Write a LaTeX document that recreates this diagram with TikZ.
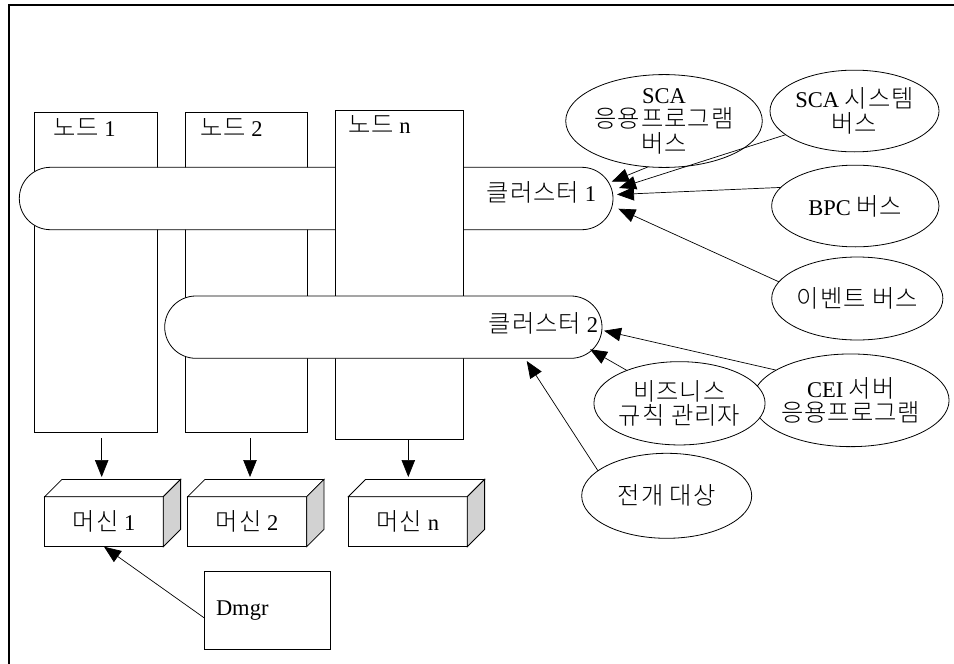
\documentclass[tikz,border=0pt]{standalone}
\usepackage{fontspec}
\setmainfont{Liberation Serif}
\IfFontExistsTF{Noto Sans CJK KR Light}
  {\newfontfamily\kr{Noto Sans CJK KR Light}[Scale=1.08, LetterSpace=4]}
  {\newfontfamily\kr{Noto Sans CJK KR}[Scale=1.08, LetterSpace=4]}
\usetikzlibrary{shapes.geometric,shapes.misc,arrows.meta}
\newcommand\K[1]{{\kr #1}}
\definecolor{sidegray}{RGB}{210,210,210}
\begin{document}
\begin{tikzpicture}[x=1pt,y=-1pt, line width=0.8pt,
  every node/.style={font=\fontsize{22.5}{24.5}\selectfont, inner sep=0pt, outer sep=0pt},
  boxn/.style={draw, fill=white, rectangle},
  pill/.style={draw, fill=white, rounded rectangle},
  oval/.style={draw, fill=white, ellipse, align=center},
  arr/.style={-{Triangle[length=17pt,width=13.5pt]}, line width=0.7pt},
]
\useasboundingbox (0,0) rectangle (954,664);
\clip (0,0) rectangle (954,664);
% frame
\draw[line width=1.6pt] (960,5) -- (9,5) -- (9,670);

% nodes 1 and 2
\node[boxn, minimum width=122.6pt, minimum height=320.4pt] (n1) at (96,272.5) {};
\node[boxn, minimum width=122.7pt, minimum height=320.4pt] (n2) at (246.35,272.5) {};
\node[anchor=west] (ln1) at (53,128) {\K{노드} 1};
\node[anchor=west] (ln2) at (200,128) {\K{노드} 2};

% cluster 1
\node[pill, minimum width=593.7pt, minimum height=62.4pt] (c1) at (316.15,198.5) {};
\node[anchor=east] (lc1) at (596,192) {\K{클러스터} 1};

% node n
\node[boxn, minimum width=128pt, minimum height=328.6pt] (nn) at (399.3,275) {};
\node[anchor=west] (lnn) at (348,125) {\K{노드} n};

% cluster 2
\node[pill, minimum width=437.3pt, minimum height=62.3pt] (c2) at (383.35,327.15) {};
\node[anchor=east] (lc2) at (598,323) {\K{클러스터} 2};

% machines
\node[boxn, minimum width=118.6pt, minimum height=50pt] (m1) at (104,521.7) {\K{머신} 1};
\draw[fill=white] (m1.north west) -- ++(17.3,-17.3) -- ++(118.6,0) -- (m1.north east) -- cycle;
\draw[fill=sidegray] (m1.north east) -- ++(17.3,-17.3) -- ++(0,50) -- (m1.south east) -- cycle;

\node[boxn, minimum width=119pt, minimum height=50pt] (m2) at (247.2,521.7) {\K{머신} 2};
\draw[fill=white] (m2.north west) -- ++(17.3,-17.3) -- ++(119,0) -- (m2.north east) -- cycle;
\draw[fill=sidegray] (m2.north east) -- ++(17.3,-17.3) -- ++(0,50) -- (m2.south east) -- cycle;

\node[boxn, minimum width=119pt, minimum height=50pt] (mn) at (407.8,521.7) {\K{머신} n};
\draw[fill=white] (mn.north west) -- ++(17.3,-17.3) -- ++(119,0) -- (mn.north east) -- cycle;
\draw[fill=sidegray] (mn.north east) -- ++(17.3,-17.3) -- ++(0,50) -- (mn.south east) -- cycle;

% Dmgr
\node[boxn, minimum width=126pt, minimum height=77.6pt, inner xsep=11.3pt, text width=103.4pt, align=left] (dm) at (267.7,610.5) {Dmgr};

% ellipses
\node[oval, minimum width=168pt, minimum height=74.3pt] (e1) at (664,121) {SCA\\\K{응용프로그램}\\\K{버스}};
\node[oval, minimum width=169pt, minimum height=81.7pt] (e2) at (854.5,111) {SCA \K{시스템}\\\K{버스}};
\node[oval, minimum width=167.3pt, minimum height=81.7pt] (e3) at (855.3,206) {BPC \K{버스}};
\node[oval, minimum width=168.7pt, minimum height=83pt] (e4) at (857.3,298.5) {\K{이벤트 버스}};
\node[oval, minimum width=168.3pt, minimum height=92.7pt] (e5) at (850.8,400.3) {CEI \K{서버}\\\K{응용프로그램}};
\node[oval, minimum width=169pt, minimum height=83.3pt] (e6) at (679.5,403.3) {\K{비즈니스}\\\K{규칙 관리자}};
\node[oval, minimum width=170pt, minimum height=85pt] (e7) at (666.7,495.8) {\K{전개 대상}};

% arrow tips
\coordinate (t1) at (611.7,181.7);
\coordinate (t2) at (619,188);
\coordinate (t3) at (617,194.5);
\coordinate (t4) at (618.3,208.7);
\coordinate (t5) at (604,330.7);
\coordinate (t6) at (590,349.3);
\coordinate (t7) at (526.7,361);
\coordinate (a1) at (101.7,477);
\coordinate (a2) at (250,477);
\coordinate (an) at (408.3,477);

\draw[arr] (e1.251) -- (t1);
\draw[arr] (e2.199) -- (t2);
\draw[arr] (e3.166) -- (t3);
\draw[arr] (e4.168) -- (t4);
\draw[arr] (e5.158) -- (t5);
\draw[arr] (e6.148) -- (t6);
\draw[arr] (e7.160) -- (t7);

\draw[arr, shorten <=5.3pt] (n1.south -| a1) -- (a1);
\draw[arr, shorten <=5.3pt] (n2.south -| a2) -- (a2);
\draw[arr] (nn.south -| an) -- (an);
\draw[arr] (dm.187) -- (m1.south);
\end{tikzpicture}
\end{document}
